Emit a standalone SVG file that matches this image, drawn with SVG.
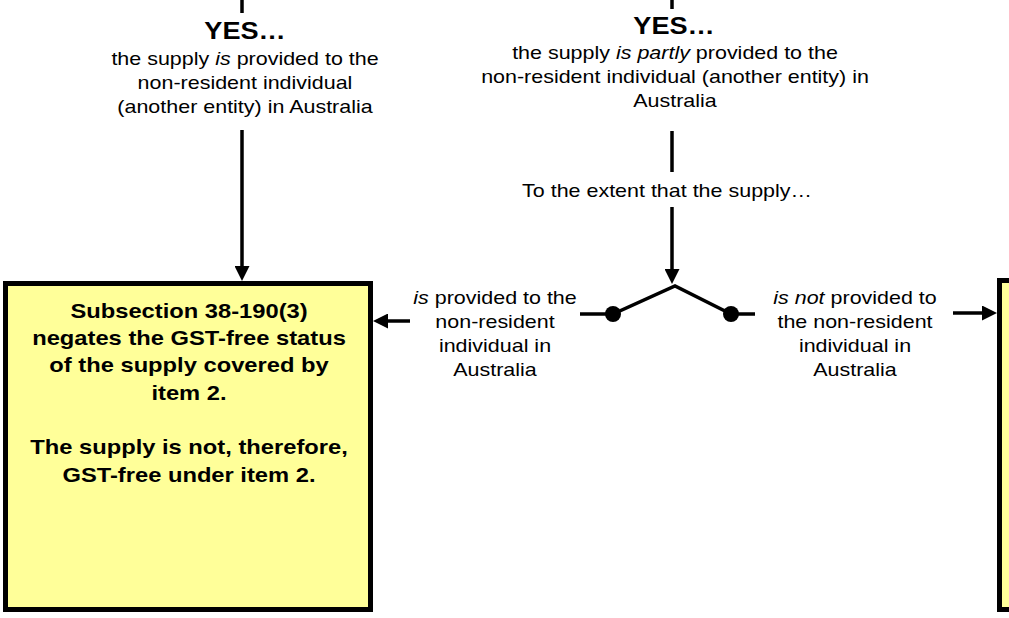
<svg xmlns="http://www.w3.org/2000/svg" width="1009" height="618" viewBox="0 0 1009 618">
<defs>
<style>
.ln{stroke:#000;stroke-width:3.5;fill:none}
.box{fill:#FFFF99;stroke:#000;stroke-width:5}
.t{font-family:"Liberation Sans",Arial,sans-serif;font-size:19px;fill:#000;text-anchor:middle}
.b{font-family:"Liberation Sans",Arial,sans-serif;font-size:21px;font-weight:bold;fill:#000;text-anchor:middle}
.yes{font-family:"Liberation Sans",Arial,sans-serif;font-size:24px;font-weight:bold;fill:#000;text-anchor:middle}
.i{font-style:italic}
</style>
<marker id="ah" markerUnits="userSpaceOnUse" markerWidth="15" markerHeight="15" refX="5" refY="7.5" orient="auto">
<path d="M0,0 L15,7.5 L0,15 z" fill="#000"/>
</marker>
</defs>
<rect width="1009" height="618" fill="#fff"/>
<g id="connectors">
<line class="ln" x1="242" y1="0" x2="242" y2="13"/>
<line class="ln" x1="672" y1="0" x2="672" y2="9"/>
<line class="ln" x1="242" y1="130" x2="242" y2="271" marker-end="url(#ah)"/>
<line class="ln" x1="672" y1="131" x2="672" y2="172"/>
<line class="ln" x1="672" y1="207" x2="672" y2="274" marker-end="url(#ah)"/>
<polyline class="ln" points="580,314 613,314 675,286 731,314 755,314"/>
<circle cx="613" cy="314" r="8" fill="#000"/>
<circle cx="731" cy="314" r="8" fill="#000"/>
<line class="ln" x1="410" y1="321" x2="383" y2="321" marker-end="url(#ah)"/>
<line class="ln" x1="953" y1="313" x2="987" y2="313" marker-end="url(#ah)"/>
</g>
<g id="yes-left">
<text class="yes" transform="translate(245 0) scale(1.13 1)"><tspan x="0" y="39">YES…</tspan></text>
<text class="t" transform="translate(245 0) scale(1.13 1)"><tspan x="0" y="65">the supply <tspan class="i">is</tspan> provided to the</tspan><tspan x="0" y="89">non-resident individual</tspan><tspan x="0" y="113">(another entity) in Australia</tspan></text>
</g>
<g id="yes-right">
<text class="yes" transform="translate(674 0) scale(1.13 1)"><tspan x="0" y="34">YES…</tspan></text>
<text class="t" transform="translate(675 0) scale(1.13 1)"><tspan x="0" y="59">the supply <tspan class="i">is partly</tspan> provided to the</tspan><tspan x="0" y="83">non-resident individual (another entity) in</tspan><tspan x="0" y="107">Australia</tspan></text>
</g>
<g id="extent">
<text class="t" transform="translate(667 0) scale(1.13 1)"><tspan x="0" y="197">To the extent that the supply…</tspan></text>
</g>
<g id="label-provided">
<text class="t" transform="translate(495 0) scale(1.13 1)"><tspan x="0" y="304"><tspan class="i">is</tspan> provided to the</tspan><tspan x="0" y="328">non-resident</tspan><tspan x="0" y="352">individual in</tspan><tspan x="0" y="376">Australia</tspan></text>
</g>
<g id="label-not-provided">
<text class="t" transform="translate(855 0) scale(1.13 1)"><tspan x="0" y="304"><tspan class="i">is not</tspan> provided to</tspan><tspan x="0" y="328">the non-resident</tspan><tspan x="0" y="352">individual in</tspan><tspan x="0" y="376">Australia</tspan></text>
</g>
<g id="box-left">
<rect class="box" x="5.5" y="283.5" width="365" height="326"/>
<text class="b" transform="translate(189 0) scale(1.13 1)"><tspan x="0" y="318">Subsection 38-190(3)</tspan><tspan x="0" y="345">negates the GST-free status</tspan><tspan x="0" y="372.5">of the supply covered by</tspan><tspan x="0" y="400">item 2.</tspan><tspan x="0" y="454.5">The supply is not, therefore,</tspan><tspan x="0" y="482">GST-free under item 2.</tspan></text>
</g>
<g id="box-right">
<rect class="box" x="999.5" y="280.5" width="40" height="329"/>
</g>
</svg>
